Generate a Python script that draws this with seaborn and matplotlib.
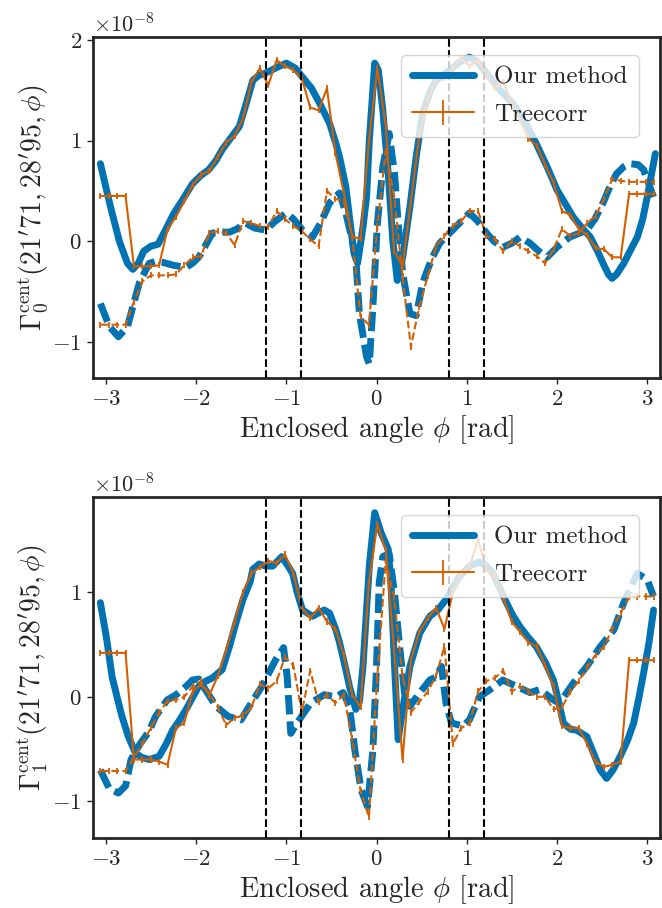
import numpy as np
import matplotlib
matplotlib.use("Agg")
import matplotlib.pyplot as plt
import seaborn as sns

sns.set_style("ticks")
plt.rcParams.update({
    "font.family": "serif",
    "font.serif": ["cmr10"],
    "mathtext.fontset": "cm",
    "axes.formatter.use_mathtext": True,
    "axes.unicode_minus": True,
})

SCALE = 1e-8
BLUE = "#0173B2"
ORANGE = "#D55E00"

# ---------------- "Our method" curves (units of 1e-8) ----------------
phi_g0_re = [-3.06, -2.95, -2.85, -2.76, -2.70, -2.64, -2.58, -2.50, -2.42, -2.34, -2.25, -2.15,
             -2.04, -1.95, -1.86, -1.78, -1.71, -1.62, -1.52, -1.45, -1.37, -1.30, -1.23, -1.12,
             -1.00, -0.90, -0.82, -0.72, -0.63, -0.52, -0.45, -0.41, -0.34, -0.30, -0.25, -0.21,
             -0.15, -0.11, -0.08, -0.02, 0.02, 0.07, 0.13, 0.18, 0.23, 0.29, 0.37, 0.44, 0.51,
             0.60, 0.66, 0.81, 0.92, 1.03, 1.12, 1.22, 1.35, 1.51, 1.65, 1.77, 1.90, 2.00, 2.10,
             2.18, 2.27, 2.37, 2.45, 2.51, 2.57, 2.61, 2.66, 2.74, 2.82, 2.89, 2.95, 3.00, 3.09]
g0_re = [0.77, 0.35, 0.00, -0.22, -0.28, -0.22, -0.10, -0.05, -0.03, 0.11, 0.27, 0.41,
         0.57, 0.65, 0.71, 0.80, 0.91, 1.02, 1.14, 1.35, 1.60, 1.65, 1.67, 1.72,
         1.77, 1.72, 1.63, 1.52, 1.37, 1.17, 0.97, 0.84, 0.54, 0.24, -0.12, -0.22,
         0.14, 0.44, 1.00, 1.77, 1.70, 1.30, 0.67, 0.01, -0.39, -0.16, 0.34, 0.84, 1.27,
         1.50, 1.60, 1.70, 1.78, 1.83, 1.78, 1.67, 1.52, 1.37, 1.18, 0.97, 0.72, 0.51, 0.36,
         0.24, 0.14, 0.04, -0.10, -0.22, -0.33, -0.37, -0.33, -0.22, -0.08, 0.04, 0.22, 0.44, 0.87]

phi_g0_im = [-3.06, -2.96, -2.86, -2.76, -2.70, -2.63, -2.52, -2.44, -2.37, -2.25, -2.11, -2.04,
             -1.97, -1.90, -1.82, -1.72, -1.63, -1.55, -1.45, -1.35, -1.23, -1.12, -1.00, -0.92,
             -0.82, -0.71, -0.62, -0.52, -0.41, -0.34, -0.28, -0.23, -0.19, -0.11, -0.08, -0.04,
             0.01, 0.07, 0.14, 0.20, 0.24, 0.29, 0.37, 0.44, 0.51, 0.55, 0.62, 0.70, 0.81, 0.92,
             1.03, 1.12, 1.22, 1.30, 1.40, 1.50, 1.59, 1.70, 1.80, 1.89, 2.00, 2.14, 2.25, 2.33,
             2.42, 2.51, 2.59, 2.66, 2.74, 2.81, 2.90, 2.96, 3.07]
g0_im = [-0.62, -0.85, -0.95, -0.85, -0.65, -0.42, -0.22, -0.20, -0.21, -0.24, -0.26, -0.22,
         -0.16, -0.05, 0.08, 0.09, 0.09, 0.12, 0.18, 0.13, 0.11, 0.20, 0.28, 0.22,
         0.11, 0.04, 0.18, 0.38, 0.48, 0.28, 0.05, -0.16, -0.72, -1.15, -1.22, -0.65,
         0.18, 0.74, 1.07, 0.67, 0.18, -0.32, -0.72, -0.74, -0.42, -0.32, -0.16, -0.02, 0.08, 0.18,
         0.28, 0.20, 0.08, 0.00, -0.06, -0.02, 0.04, -0.02, -0.10, -0.16, -0.06, 0.04, 0.08, 0.11,
         0.22, 0.38, 0.55, 0.67, 0.74, 0.77, 0.76, 0.71, 0.44]

phi_g1_re = [-3.06, -2.99, -2.93, -2.87, -2.82, -2.75, -2.67, -2.60, -2.52, -2.41, -2.33, -2.26,
             -2.18, -2.11, -2.04, -1.97, -1.89, -1.82, -1.71, -1.63, -1.56, -1.48, -1.40, -1.37,
             -1.30, -1.23, -1.15, -1.05, -0.98, -0.93, -0.88, -0.82, -0.71, -0.58, -0.52, -0.45,
             -0.41, -0.34, -0.30, -0.23, -0.19, -0.15, -0.08, -0.02, 0.05, 0.13, 0.16, 0.20, 0.24,
             0.29, 0.37, 0.48, 0.59, 0.68, 0.77, 0.85, 0.92, 1.03, 1.14, 1.22, 1.29, 1.36, 1.44,
             1.51, 1.59, 1.68, 1.77, 1.87, 1.96, 2.02, 2.07, 2.15, 2.22, 2.33, 2.41, 2.48, 2.55,
             2.62, 2.70, 2.78, 2.85, 2.91, 2.96, 3.02, 3.07]
g1_re = [0.90, 0.55, 0.19, -0.02, -0.19, -0.38, -0.54, -0.58, -0.60, -0.57, -0.45, -0.32,
         -0.22, -0.12, -0.01, 0.10, 0.15, 0.18, 0.26, 0.48, 0.70, 0.93, 1.10, 1.22,
         1.27, 1.25, 1.25, 1.34, 1.25, 1.18, 1.00, 0.83, 0.77, 0.83, 0.80, 0.64,
         0.52, 0.26, 0.10, -0.12, -0.05, 0.29, 1.25, 1.76, 1.57, 1.41, 1.09, 0.29, -0.41,
         -0.12, 0.29, 0.61, 0.77, 0.83, 0.93, 1.05, 1.15, 1.25, 1.29, 1.25, 1.18, 1.05, 0.90,
         0.78, 0.67, 0.57, 0.48, 0.33, 0.16, -0.05, -0.25, -0.31, -0.32, -0.38, -0.55, -0.70, -0.78,
         -0.70, -0.57, -0.42, -0.25, 0.00, 0.23, 0.52, 0.83]

phi_g1_im = [-3.06, -2.96, -2.86, -2.78, -2.72, -2.62, -2.52, -2.45, -2.32, -2.22, -2.11, -2.04,
             -1.97, -1.89, -1.78, -1.64, -1.50, -1.41, -1.27, -1.12, -1.03, -0.99, -0.95, -0.88,
             -0.73, -0.58, -0.45, -0.37, -0.30, -0.24, -0.17, -0.10, -0.04, 0.00, 0.03, 0.07,
             0.14, 0.20, 0.26, 0.31, 0.37, 0.48, 0.59, 0.66, 0.72, 0.77, 0.83, 0.96, 1.03, 1.14,
             1.26, 1.40, 1.55, 1.70, 1.81, 1.96, 2.03, 2.18, 2.33, 2.48, 2.63, 2.74, 2.89, 3.00, 3.07]
g1_im = [-0.70, -0.88, -0.92, -0.85, -0.60, -0.45, -0.33, -0.19, -0.03, 0.02, 0.10, 0.16,
         0.17, 0.06, -0.09, -0.19, -0.22, -0.09, 0.10, 0.35, 0.47, 0.19, -0.35, -0.25,
         -0.06, 0.02, 0.00, 0.04, -0.09, -0.51, -0.89, -1.05, -0.51, 0.29, 1.09, 1.34,
         1.37, 0.99, 0.45, 0.04, -0.09, 0.04, 0.16, 0.19, 0.29, -0.06, -0.25, -0.28, -0.22, 0.00,
         0.07, 0.16, 0.10, 0.04, 0.07, -0.03, -0.06, 0.13, 0.29, 0.48, 0.64, 0.90, 1.18, 1.12, 0.96]

# ---------------- Treecorr measurements (units of 1e-8) ----------------
phi_tc = [-3.060, -2.967, -2.874, -2.781, -2.688, -2.595, -2.502, -2.409, -2.316, -2.223,
          -2.130, -2.037, -1.944, -1.851, -1.758, -1.665, -1.572, -1.479, -1.386, -1.293,
          -1.200, -1.107, -1.014, -0.921, -0.828, -0.735, -0.642, -0.549, -0.456, -0.363,
          -0.270, -0.177, -0.084, 0.009, 0.102, 0.195, 0.288, 0.381, 0.474, 0.567,
          0.660, 0.753, 0.846, 0.939, 1.032, 1.125, 1.218, 1.311, 1.404, 1.497,
          1.590, 1.683, 1.776, 1.869, 1.962, 2.055, 2.148, 2.241, 2.334, 2.427,
          2.520, 2.613, 2.706, 2.799, 2.892, 2.985, 3.078]
tc0_re = [0.45, 0.45, 0.45, 0.45, -0.25, -0.25, -0.25, -0.24, 0.12, 0.24,
          0.40, 0.56, 0.66, 0.70, 0.84, 0.98, 1.05, 1.22, 1.58, 1.72,
          1.55, 1.80, 1.74, 1.70, 1.62, 1.33, 1.30, 1.52, 0.88, 0.48,
          0.05, 0.02, 1.00, 1.72, 1.15, -0.10, -0.25, 0.40, 1.05, 1.40,
          1.62, 1.62, 1.72, 1.82, 1.74, 1.80, 1.65, 1.52, 1.58, 1.38,
          1.20, 1.02, 0.95, 0.76, 0.58, 0.30, 0.26, 0.12, 0.06, -0.07,
          -0.08, -0.16, -0.16, 0.47, 0.47, 0.47, 0.47]
tc0_im = [-0.83, -0.83, -0.83, -0.83, -0.60, -0.40, -0.34, -0.34, -0.34, -0.33,
          -0.24, -0.16, -0.15, 0.08, 0.10, 0.08, -0.04, 0.20, 0.18, 0.15,
          0.14, 0.30, 0.22, 0.15, 0.10, 0.02, -0.05, 0.50, 0.42, 0.40,
          0.05, -0.75, -0.83, 0.15, 0.90, 0.45, -0.35, -1.05, -0.65, -0.35,
          -0.05, 0.05, 0.15, 0.20, 0.30, 0.30, 0.05, 0.02, -0.10, 0.00,
          -0.05, -0.10, -0.15, -0.22, -0.08, 0.12, 0.05, 0.08, 0.18, 0.25,
          0.42, 0.62, 0.60, 0.59, 0.59, 0.59, 0.59]
tc1_re = [0.42, 0.42, 0.42, 0.42, -0.60, -0.60, -0.60, -0.62, -0.65, -0.30,
          -0.25, 0.05, 0.12, 0.02, 0.20, 0.45, 0.72, 1.00, 1.18, 1.24,
          1.30, 1.28, 1.36, 1.18, 0.85, 0.75, 0.85, 0.72, 0.65, 0.40,
          0.02, -0.10, 1.10, 1.65, 1.40, 0.45, -0.60, 0.35, 0.62, 0.75,
          0.85, 0.65, 1.00, 1.18, 1.25, 1.50, 1.22, 1.15, 0.95, 0.72,
          0.62, 0.52, 0.48, 0.30, 0.10, -0.28, -0.30, -0.30, -0.45, -0.62,
          -0.67, -0.65, -0.62, 0.35, 0.35, 0.35, 0.35]
tc1_im = [-0.71, -0.71, -0.71, -0.71, -0.58, -0.45, -0.30, -0.15, -0.04, -0.03,
          0.00, 0.10, 0.15, 0.02, -0.10, -0.27, -0.20, -0.18, -0.10, 0.12,
          0.08, 0.15, 0.38, 0.30, -0.15, 0.25, -0.05, 0.02, -0.06, 0.02,
          -0.40, -0.90, -1.15, 0.20, 1.30, 0.95, 0.20, -0.15, -0.05, 0.05,
          0.20, 0.48, -0.45, -0.30, -0.25, 0.05, 0.15, 0.18, 0.25, 0.05,
          0.10, 0.05, 0.00, 0.00, -0.12, -0.10, 0.05, 0.15, 0.28, 0.40,
          0.48, 0.65, 0.80, 0.96, 0.96, 0.96, 0.96]
tc_err = 0.03

vlines = [-1.23, -0.84, 0.80, 1.19]
xticks = [-3, -2, -1, 0, 1, 2, 3]

panels = [
    dict(ours=[(phi_g0_re, g0_re), (phi_g0_im, g0_im)], tc=[tc0_re, tc0_im],
         ylabel=r"$\Gamma^{\rm cent}_0(21'71,28'95,\phi)$", ylim=(-1.36, 2.03)),
    dict(ours=[(phi_g1_re, g1_re), (phi_g1_im, g1_im)], tc=[tc1_re, tc1_im],
         ylabel=r"$\Gamma^{\rm cent}_1(21'71,28'95,\phi)$", ylim=(-1.35, 1.91)),
]

fig = plt.figure(figsize=(6.62, 9.08), dpi=100)
axes = [fig.add_axes([0.1405, 0.5837, 0.8565, 0.3756]),
        fig.add_axes([0.1405, 0.0771, 0.8565, 0.3755])]

for ax, p in zip(axes, panels):
    (xr, yr), (xi, yi) = p["ours"]
    sns.lineplot(x=np.array(xr), y=np.array(yr) * SCALE, ax=ax, color=BLUE, linewidth=5,
                 sort=False, estimator=None, label="Our method")
    sns.lineplot(x=np.array(xi), y=np.array(yi) * SCALE, ax=ax, color=BLUE, linewidth=5,
                 sort=False, estimator=None)
    ax.lines[-1].set_dashes((2.8, 1.0))
    tr, ti = p["tc"]
    ax.errorbar(phi_tc, np.array(tr) * SCALE, yerr=tc_err * SCALE, color=ORANGE, lw=1.5,
                elinewidth=1.3, capsize=0, label="Treecorr")
    ax.errorbar(phi_tc, np.array(ti) * SCALE, yerr=tc_err * SCALE, color=ORANGE, lw=1.5,
                elinewidth=1.3, capsize=0, ls="--")
    for v in vlines:
        ax.axvline(v, color="black", ls="--", lw=1.5, zorder=5)
    ax.set_xlim(-np.pi, np.pi)
    ax.set_ylim(p["ylim"][0] * SCALE, p["ylim"][1] * SCALE)
    ax.set_xticks(xticks)
    ax.yaxis.set_major_locator(matplotlib.ticker.MultipleLocator(1e-8))
    ax.set_xlabel(r"Enclosed angle $\phi$ [rad]", fontsize=20.5, labelpad=3)
    ax.set_ylabel(p["ylabel"], fontsize=20, labelpad=2)
    ax.tick_params(labelsize=16.5, width=1, length=4, direction="out", pad=4)
    ax.yaxis.get_offset_text().set_fontsize(16)
    for s in ax.spines.values():
        s.set_linewidth(2.0)
    handles, labels = ax.get_legend_handles_labels()
    leg = ax.legend(handles, labels, loc="upper right", fontsize=18, framealpha=0.8,
                    handlelength=2.5, borderpad=0.45, handletextpad=0.8, labelspacing=0.6,
                    bbox_to_anchor=(0.985, 0.985))
    leg.set_zorder(10)

fig.savefig("out.png", dpi=100)
